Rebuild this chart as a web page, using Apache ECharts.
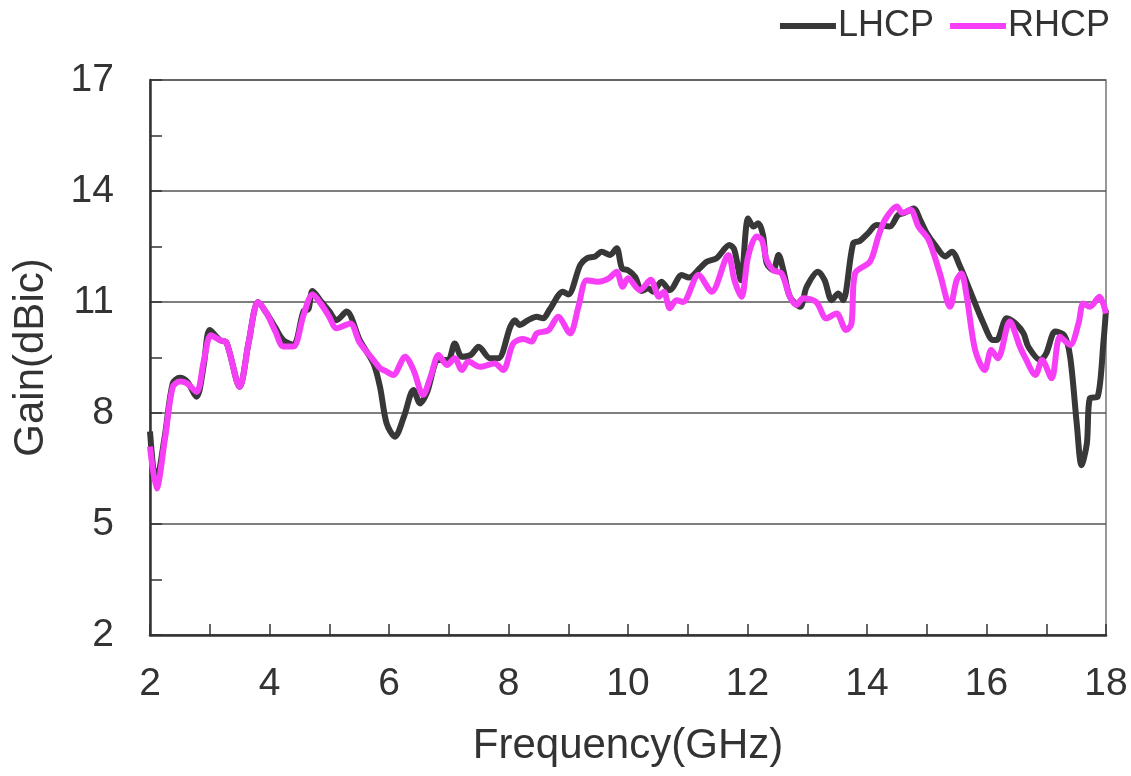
<!DOCTYPE html>
<html>
<head>
<meta charset="utf-8">
<script src="https://cdn.jsdelivr.net/npm/echarts@6/dist/echarts.min.js"></script>
<style>
  html, body { margin: 0; padding: 0; background: #fff; }
  #main { width: 1131px; height: 776px; }
</style>
</head>
<body>
<div id="main"></div>
<script>
// frequency (GHz) / gain (dBic)
var lhcpFreq = [2.0, 2.1, 2.25, 2.38, 2.5, 2.62, 2.78, 2.9, 3.0, 3.17, 3.28, 3.5, 3.65, 3.81, 3.95, 4.1, 4.23, 4.4, 4.57, 4.65, 4.72, 4.87, 5.0, 5.12, 5.29, 5.51, 5.74, 5.85, 5.96, 6.1, 6.25, 6.41, 6.52, 6.63, 6.83, 6.99, 7.1, 7.22, 7.37, 7.5, 7.69, 7.83, 8.03, 8.11, 8.18, 8.33, 8.47, 8.58, 8.69, 8.91, 9.0, 9.2, 9.31, 9.45, 9.56, 9.7, 9.81, 9.9, 10.0, 10.12, 10.23, 10.34, 10.42, 10.56, 10.7, 10.9, 11.02, 11.2, 11.32, 11.48, 11.7, 11.78, 11.89, 12.01, 12.1, 12.18, 12.26, 12.32, 12.43, 12.52, 12.6, 12.71, 12.88, 12.99, 13.18, 13.29, 13.41, 13.52, 13.6, 13.77, 13.88, 14.02, 14.16, 14.38, 14.52, 14.63, 14.78, 14.89, 15.0, 15.14, 15.31, 15.42, 15.56, 15.72, 15.95, 16.11, 16.17, 16.34, 16.5, 16.62, 16.7, 16.9, 17.0, 17.15, 17.3, 17.4, 17.51, 17.59, 17.68, 17.73, 17.86, 17.96, 18.0];
var lhcpGain = [7.5, 6.1, 7.4, 8.8, 8.95, 8.85, 8.44, 9.3, 10.24, 9.97, 9.9, 8.71, 9.9, 11.0, 10.7, 10.3, 9.97, 9.84, 10.75, 10.8, 11.3, 11.0, 10.75, 10.51, 10.74, 9.97, 9.34, 8.7, 7.72, 7.36, 7.9, 8.62, 8.26, 8.53, 9.43, 9.43, 9.88, 9.52, 9.57, 9.79, 9.48, 9.48, 10.33, 10.51, 10.38, 10.51, 10.6, 10.56, 10.8, 11.28, 11.2, 12.0, 12.18, 12.23, 12.36, 12.27, 12.45, 11.91, 11.86, 11.68, 11.3, 11.37, 11.28, 11.55, 11.32, 11.73, 11.66, 11.91, 12.09, 12.18, 12.54, 12.41, 11.59, 13.26, 13.04, 13.13, 12.81, 12.05, 11.86, 12.27, 11.86, 11.14, 10.87, 11.41, 11.82, 11.59, 11.05, 11.23, 11.05, 12.59, 12.65, 12.86, 13.08, 13.04, 13.35, 13.41, 13.53, 13.22, 12.86, 12.54, 12.23, 12.36, 11.95, 11.32, 10.42, 9.97, 9.97, 10.56, 10.4, 10.15, 9.79, 9.43, 9.61, 10.2, 10.1, 9.52, 7.72, 6.59, 7.18, 8.4, 8.44, 9.97, 10.78];

var rhcpFreq = [2.0, 2.11, 2.25, 2.38, 2.5, 2.62, 2.78, 2.9, 3.02, 3.17, 3.28, 3.5, 3.65, 3.81, 3.95, 4.1, 4.23, 4.4, 4.57, 4.72, 4.87, 5.0, 5.12, 5.35, 5.51, 5.74, 5.85, 5.96, 6.07, 6.27, 6.41, 6.57, 6.7, 6.83, 6.97, 7.1, 7.22, 7.33, 7.52, 7.77, 7.91, 8.08, 8.25, 8.39, 8.47, 8.67, 8.83, 9.03, 9.17, 9.31, 9.5, 9.68, 9.81, 9.91, 10.0, 10.2, 10.38, 10.52, 10.6, 10.7, 10.81, 10.92, 11.18, 11.4, 11.68, 11.78, 11.9, 12.01, 12.15, 12.24, 12.32, 12.43, 12.57, 12.71, 12.82, 12.93, 13.15, 13.32, 13.49, 13.65, 13.74, 13.8, 14.05, 14.19, 14.3, 14.5, 14.59, 14.73, 14.86, 15.03, 15.22, 15.39, 15.5, 15.58, 15.67, 15.81, 15.97, 16.08, 16.19, 16.39, 16.56, 16.64, 16.82, 16.93, 17.09, 17.23, 17.4, 17.54, 17.62, 17.73, 17.89, 18.0];
var rhcpGain = [7.09, 5.96, 7.3, 8.7, 8.85, 8.8, 8.57, 9.4, 10.1, 9.97, 9.9, 8.71, 9.9, 11.0, 10.7, 10.2, 9.8, 9.8, 10.65, 11.2, 10.93, 10.6, 10.29, 10.42, 9.9, 9.43, 9.21, 9.12, 9.03, 9.52, 9.16, 8.49, 9.0, 9.57, 9.3, 9.48, 9.16, 9.39, 9.25, 9.34, 9.16, 9.88, 10.0, 9.93, 10.15, 10.24, 10.6, 10.15, 10.87, 11.59, 11.55, 11.64, 11.82, 11.41, 11.64, 11.32, 11.6, 11.14, 11.28, 10.83, 11.05, 11.0, 11.73, 11.28, 12.27, 11.59, 11.14, 12.23, 12.77, 12.68, 12.14, 11.86, 11.77, 11.14, 10.92, 11.1, 11.0, 10.56, 10.69, 10.24, 10.42, 11.77, 12.09, 12.77, 13.22, 13.58, 13.41, 13.49, 13.04, 12.68, 11.77, 10.87, 11.59, 11.77, 11.14, 9.7, 9.16, 9.7, 9.48, 10.47, 9.79, 9.52, 9.03, 9.43, 8.94, 10.06, 9.84, 10.42, 10.96, 10.87, 11.14, 10.69];

var xTicks = [2, 4, 6, 8, 10, 12, 14, 16, 18];
var yTicks = [2, 5, 8, 11, 14, 17];

function pairs(xs, ys) {
    var out = [];
    for (var i = 0; i < xs.length; i++) out.push([xs[i], ys[i]]);
    return out;
}

var font = 'Liberation Sans, Arial, sans-serif';
var chart = echarts.init(document.getElementById('main'));
chart.setOption({
    animation: false,
    backgroundColor: '#fff',
    grid: {
        left: 150, right: 25, top: 80, bottom: 141,
        show: true, borderColor: '#777', borderWidth: 1.5
    },
    legend: {
        right: 16, top: 3,
        icon: 'rect', itemWidth: 56, itemHeight: 6, itemGap: 16,
        textStyle: { fontFamily: font, fontSize: 36, color: '#333', padding: [0, 0, 0, -3] },
        data: ['LHCP', 'RHCP']
    },
    xAxis: {
        type: 'value',
        min: xTicks[0], max: xTicks[xTicks.length - 1], interval: 2,
        name: 'Frequency(GHz)', nameLocation: 'middle', nameGap: 90,
        nameTextStyle: { fontFamily: font, fontSize: 42, color: '#333' },
        axisLine: { lineStyle: { color: '#333', width: 2.5 } },
        axisTick: { inside: true, length: 11, lineStyle: { color: '#333', width: 1.5 } },
        minorTick: { show: true, splitNumber: 2, length: 11, lineStyle: { color: '#333', width: 1.5 } },
        axisLabel: { margin: 30, fontFamily: font, fontSize: 39, color: '#333' },
        splitLine: { show: false }
    },
    yAxis: {
        type: 'value',
        min: yTicks[0], max: yTicks[yTicks.length - 1], interval: 3,
        name: 'Gain(dBic)', nameLocation: 'middle', nameGap: 98,
        nameTextStyle: { fontFamily: font, fontSize: 42, color: '#333' },
        axisLine: { lineStyle: { color: '#333', width: 2.5 } },
        axisTick: { inside: true, length: 12, lineStyle: { color: '#333', width: 1.5 } },
        minorTick: { show: true, splitNumber: 2, length: 12, lineStyle: { color: '#333', width: 1.5 } },
        axisLabel: { margin: 36, fontFamily: font, fontSize: 39, color: '#333' },
        splitLine: { show: true, lineStyle: { color: '#555', width: 1.5 } }
    },
    series: [
        {
            name: 'LHCP', type: 'line', showSymbol: false, smooth: 0.3,
            data: pairs(lhcpFreq, lhcpGain),
            itemStyle: { color: '#383838' },
            lineStyle: { color: '#383838', width: 6 }
        },
        {
            name: 'RHCP', type: 'line', showSymbol: false, smooth: 0.3,
            data: pairs(rhcpFreq, rhcpGain),
            itemStyle: { color: '#f53ef5' },
            lineStyle: { color: '#f53ef5', width: 6 }
        }
    ]
});
</script>
</body>
</html>
